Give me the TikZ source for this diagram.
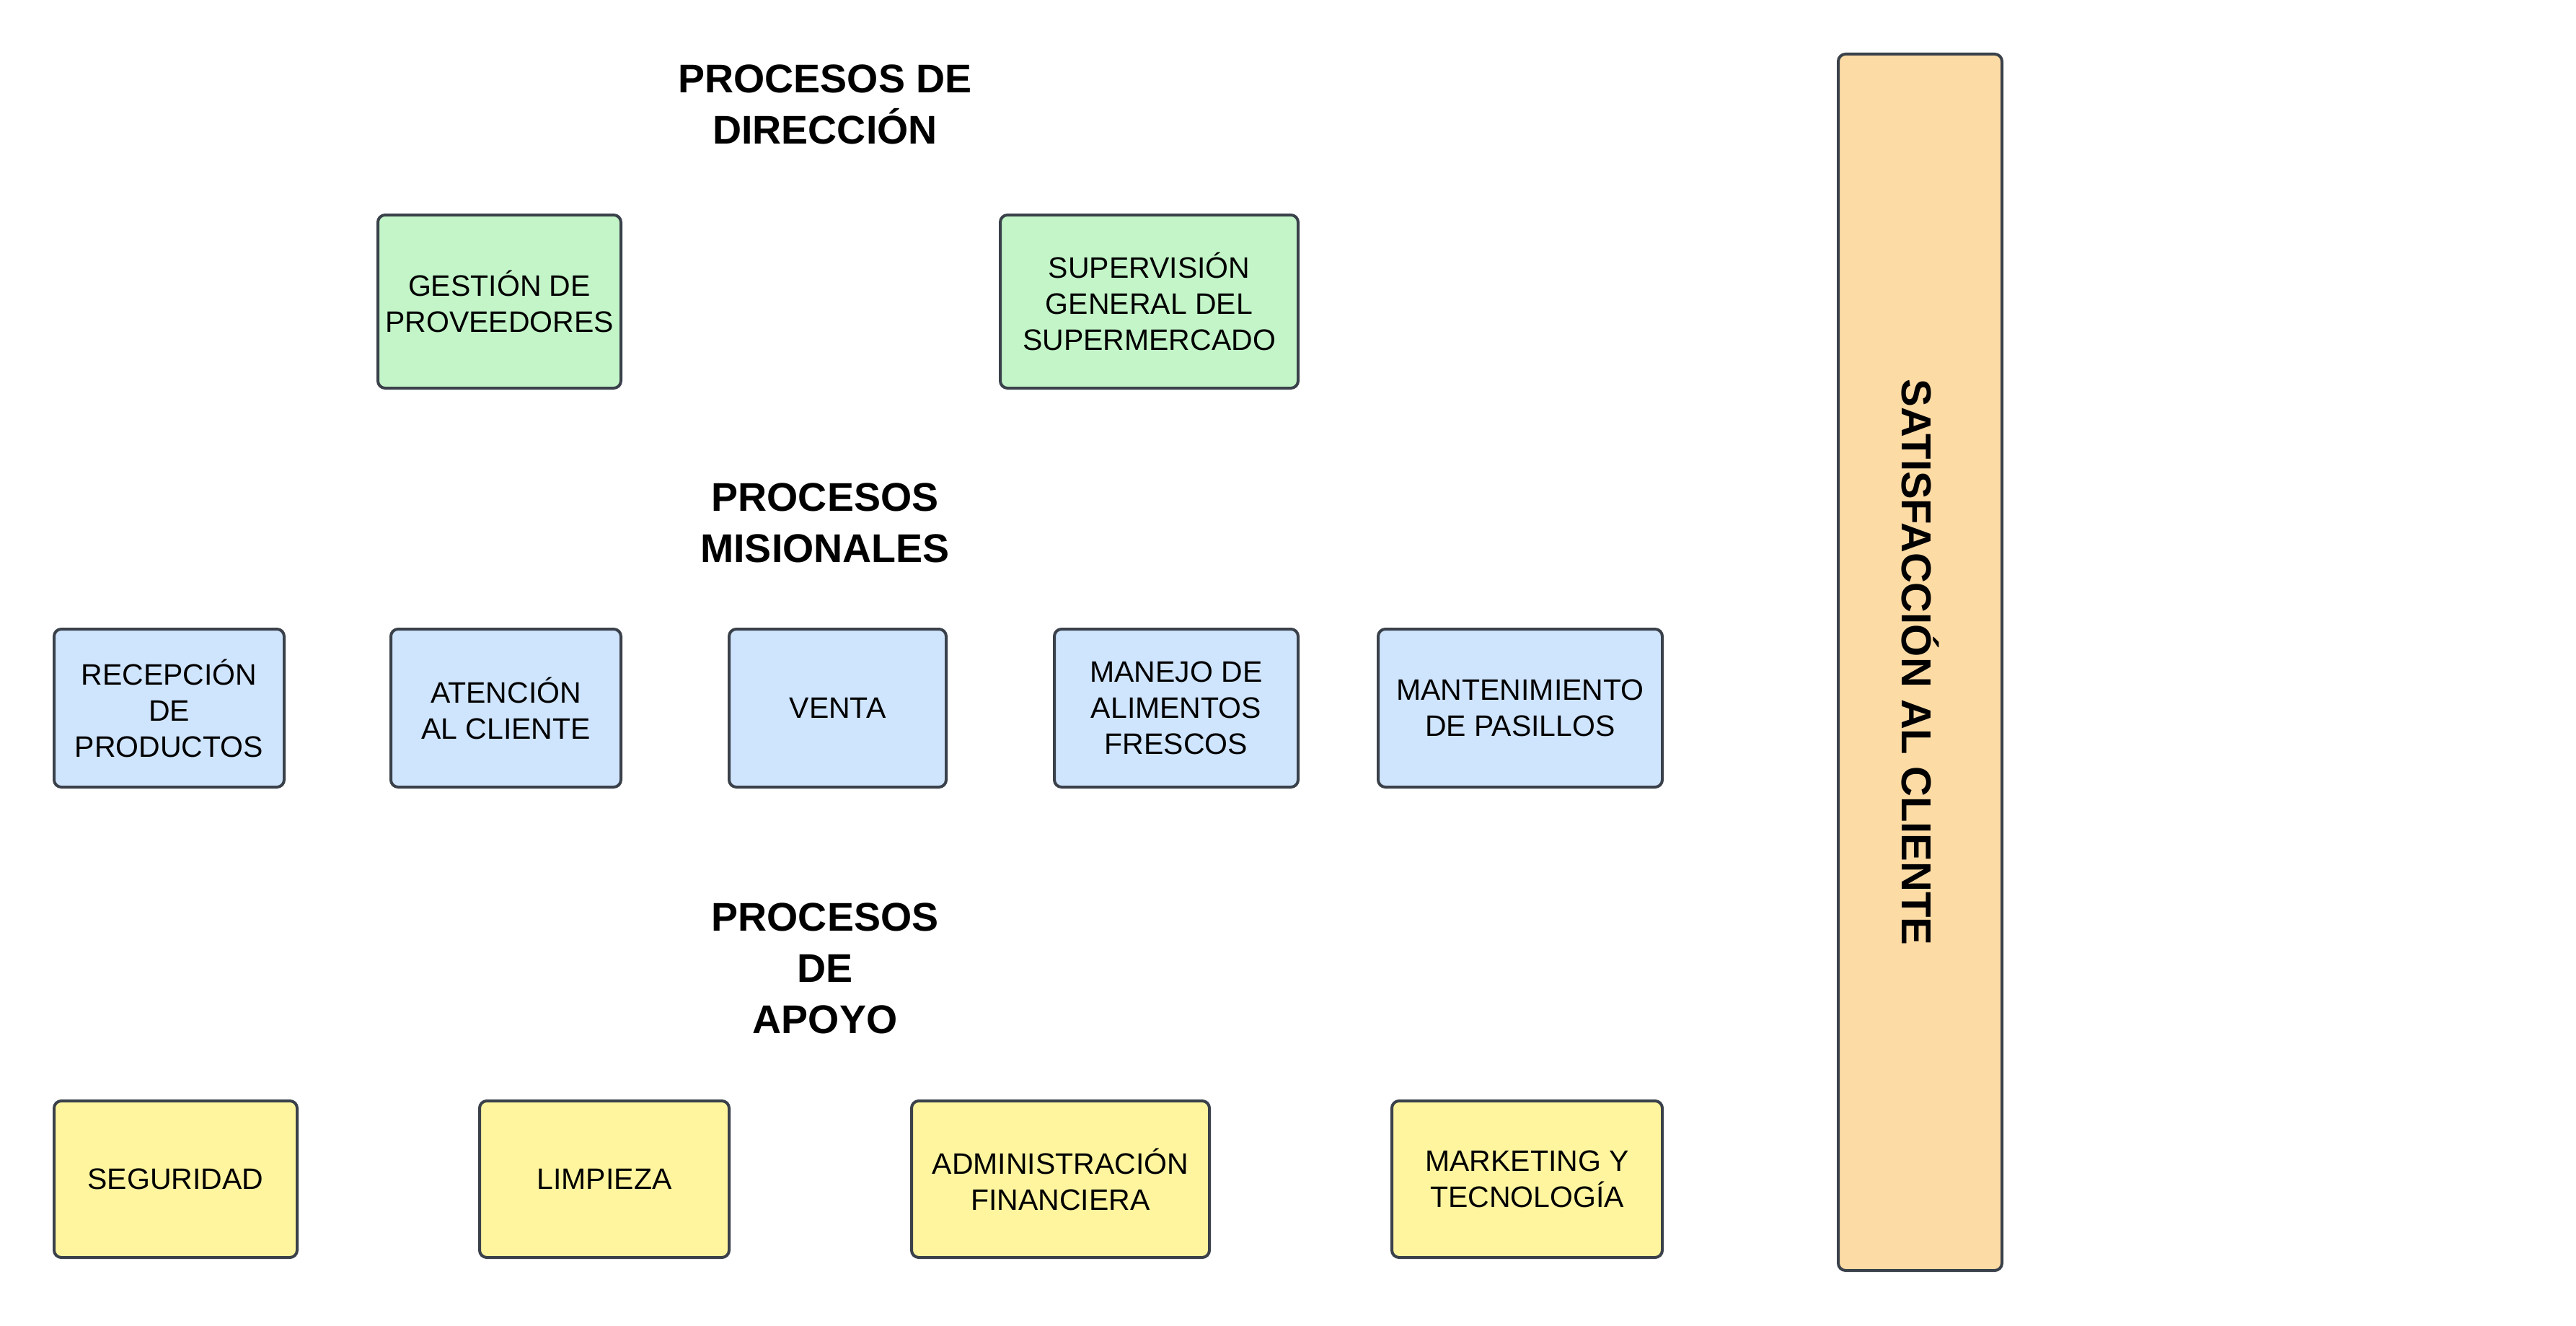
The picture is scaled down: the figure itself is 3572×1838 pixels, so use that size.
\documentclass[tikz,border=0pt]{standalone}
\usepackage{fontspec}
\setmainfont{Liberation Sans}
\definecolor{edge}{HTML}{3A414A}
\definecolor{fgreen}{HTML}{C3F5C8}
\definecolor{fblue}{HTML}{CFE4FD}
\definecolor{fyellow}{HTML}{FFF59F}
\definecolor{forange}{HTML}{FDDBA5}
\tikzset{
  procbox/.style={draw=edge, line width=4pt, rounded corners=10pt, inner sep=0pt, align=center,
    font=\fontsize{41}{50}\selectfont},
  gbox/.style={procbox, fill=fgreen},
  bbox/.style={procbox, fill=fblue},
  ybox/.style={procbox, fill=fyellow},
  obox/.style={procbox, fill=forange},
  title/.style={align=center, inner sep=0pt, font=\fontsize{55.5}{71}\selectfont\bfseries},
}
\begin{document}
\begin{tikzpicture}[x=1pt,y=-1pt]
\useasboundingbox (0,0) rectangle (3572,1838);
% titles
\node[title] (t1) at (1144,145) {PROCESOS DE\\DIRECCIÓN};
\node[title] (t2) at (1144,725) {PROCESOS\\MISIONALES};
\node[title] (t3) at (1144,1342) {PROCESOS\\DE\\APOYO};
% direction
\node[gbox, minimum width=337pt, minimum height=240pt] (g1) at (692.5,418) {GESTIÓN DE\\PROVEEDORES};
\node[gbox, minimum width=413pt, minimum height=240pt] (g2) at (1593.5,418) {SUPERVISIÓN\\GENERAL DEL\\SUPERMERCADO};
% missional
\node[bbox, minimum width=319pt, minimum height=219pt] (b1) at (234.5,981.5) {RECEPCIÓN\\DE\\PRODUCTOS};
\node[bbox, minimum width=319pt, minimum height=219pt] (b2) at (701.5,981.5) {ATENCIÓN\\AL CLIENTE};
\node[bbox, minimum width=301pt, minimum height=219pt] (b3) at (1161.5,981.5) {VENTA};
\node[bbox, minimum width=338pt, minimum height=219pt] (b4) at (1631,981.5) {MANEJO DE\\ALIMENTOS\\FRESCOS};
\node[bbox, minimum width=394pt, minimum height=219pt] (b5) at (2108,981.5) {MANTENIMIENTO\\DE PASILLOS};
% support
\node[ybox, minimum width=337pt, minimum height=217pt] (y1) at (243.5,1634.5) {SEGURIDAD};
\node[ybox, minimum width=346pt, minimum height=217pt] (y2) at (838,1634.5) {LIMPIEZA};
\node[ybox, minimum width=413pt, minimum height=217pt] (y3) at (1470.5,1634.5) {ADMINISTRACIÓN\\FINANCIERA};
\node[ybox, minimum width=375pt, minimum height=217pt] (y4) at (2117.5,1634.5) {MARKETING Y\\TECNOLOGÍA};
% satisfaction
\node[obox, minimum width=227pt, minimum height=1686pt] (sat) at (2662.5,918) {};
\node[title, rotate=-90, font=\fontsize{58}{70}\selectfont\bfseries] (satt) at (sat.center) {SATISFACCIÓN AL CLIENTE};
\end{tikzpicture}
\end{document}
